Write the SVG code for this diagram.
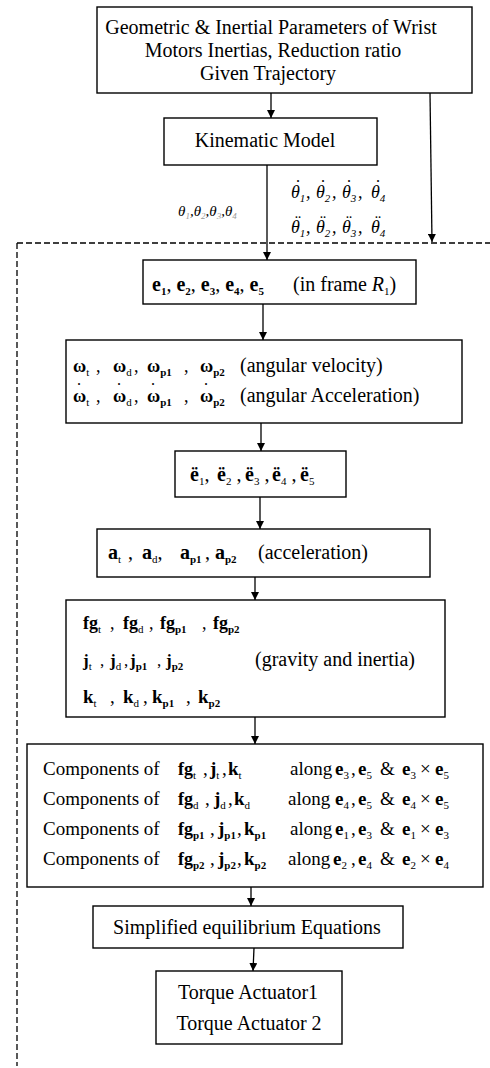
<svg xmlns="http://www.w3.org/2000/svg" width="490" height="1068" viewBox="0 0 490 1068">
<style>
text{font-family:"Liberation Serif","Times New Roman",serif;font-size:20px;fill:#000}
.c{text-anchor:middle}
.b{font-weight:bold}
.i{font-style:italic}
.sub{font-size:11px;baseline-shift:-4px}
.sm{font-size:18px}
.d{font-style:normal;font-weight:normal;font-size:18px}
.box{fill:#fff;stroke:#000;stroke-width:1.4}
.ln{stroke:#000;stroke-width:1.3;fill:none}
.dash{stroke:#000;stroke-width:1.3;fill:none;stroke-dasharray:6 3}
</style>
<defs>
<marker id="ah" viewBox="0 0 10 10" refX="10" refY="5" markerWidth="8" markerHeight="8" markerUnits="userSpaceOnUse" orient="auto">
<path d="M0,0 L10,5 L0,10 Z" fill="#000"/>
</marker>
</defs>
<rect width="490" height="1068" fill="#fff"/>

<g id="frame">
<path class="dash" d="M17,243 H490 M17,243 V1066"/>
</g>

<g id="n-params">
<rect class="box" x="97" y="7" width="375" height="86"/>
<text class="c" x="271" y="34">Geometric &amp; Inertial Parameters of Wrist</text>
<text class="c" x="273" y="57">Motors Inertias, Reduction ratio</text>
<text class="c" x="268" y="80">Given Trajectory</text>
</g>

<g id="n-kinematic">
<rect class="box" x="164" y="118" width="213" height="47"/>
<text class="c" x="265" y="147">Kinematic Model</text>
</g>

<g id="labels">
<text class="i" x="178" y="216" style="font-size:15px">θ<tspan fill="#999" style="font-size:9px;baseline-shift:-3px">1</tspan>,θ<tspan fill="#999" style="font-size:9px;baseline-shift:-3px">2</tspan>,θ<tspan fill="#999" style="font-size:9px;baseline-shift:-3px">3</tspan>,θ<tspan fill="#999" style="font-size:9px;baseline-shift:-3px">4</tspan></text>
<text class="i sm" y="198"><tspan x="291">θ</tspan><tspan class="sub">1</tspan><tspan x="306">,</tspan><tspan x="316">θ</tspan><tspan class="sub">2</tspan><tspan x="332">,</tspan><tspan x="342">θ</tspan><tspan class="sub">3</tspan><tspan x="358">,</tspan><tspan x="371">θ</tspan><tspan class="sub">4</tspan><tspan class="d" x="295" y="193">˙</tspan><tspan class="d" x="320">˙</tspan><tspan class="d" x="346">˙</tspan><tspan class="d" x="375">˙</tspan></text>
<text class="i sm" y="233"><tspan x="291">θ</tspan><tspan class="sub">1</tspan><tspan x="306">,</tspan><tspan x="316">θ</tspan><tspan class="sub">2</tspan><tspan x="332">,</tspan><tspan x="342">θ</tspan><tspan class="sub">3</tspan><tspan x="358">,</tspan><tspan x="371">θ</tspan><tspan class="sub">4</tspan><tspan class="d" x="295" y="228">¨</tspan><tspan class="d" x="320">¨</tspan><tspan class="d" x="346">¨</tspan><tspan class="d" x="375">¨</tspan></text>
</g>

<g id="n-e">
<rect class="box" x="143" y="260" width="273" height="44"/>
<text y="291"><tspan x="152" class="b">e</tspan><tspan class="sub b">1</tspan><tspan>, </tspan><tspan class="b">e</tspan><tspan class="sub b">2</tspan><tspan>, </tspan><tspan class="b">e</tspan><tspan class="sub b">3</tspan><tspan>, </tspan><tspan class="b">e</tspan><tspan class="sub b">4</tspan><tspan>, </tspan><tspan class="b">e</tspan><tspan class="sub b">5</tspan><tspan x="293">(in frame </tspan><tspan class="i">R</tspan><tspan class="sub">1</tspan><tspan>)</tspan></text>
</g>

<g id="n-omega">
<rect class="box" x="66" y="340" width="396" height="83"/>
<text y="372" class="sm"><tspan x="73" class="b">ω</tspan><tspan class="sub">t</tspan><tspan x="96">,</tspan><tspan x="113" class="b">ω</tspan><tspan class="sub">d</tspan><tspan x="134">,</tspan><tspan x="147" class="b">ω</tspan><tspan class="sub b">p1</tspan><tspan x="184">,</tspan><tspan x="200" class="b">ω</tspan><tspan class="sub b">p2</tspan><tspan x="240" style="font-size:20px">(angular velocity)</tspan></text>
<text y="402" class="sm"><tspan x="73" class="b">ω</tspan><tspan class="sub">t</tspan><tspan x="96">,</tspan><tspan x="113" class="b">ω</tspan><tspan class="sub">d</tspan><tspan x="134">,</tspan><tspan x="147" class="b">ω</tspan><tspan class="sub b">p1</tspan><tspan x="184">,</tspan><tspan x="200" class="b">ω</tspan><tspan class="sub b">p2</tspan><tspan x="240" style="font-size:20px">(angular Acceleration)</tspan><tspan class="d" x="76" y="396">˙</tspan><tspan class="d" x="116">˙</tspan><tspan class="d" x="150">˙</tspan><tspan class="d" x="203">˙</tspan></text>
</g>

<g id="n-eddot">
<rect class="box" x="175" y="451" width="171" height="46"/>
<text y="481"><tspan x="190" class="b">ë</tspan><tspan class="sub">1</tspan><tspan>,</tspan><tspan x="217" class="b">ë</tspan><tspan class="sub">2</tspan><tspan> ,</tspan><tspan x="245" class="b">ë</tspan><tspan class="sub">3</tspan><tspan> ,</tspan><tspan x="272" class="b">ë</tspan><tspan class="sub">4</tspan><tspan> ,</tspan><tspan x="300" class="b">ë</tspan><tspan class="sub">5</tspan></text>
</g>

<g id="n-acc">
<rect class="box" x="97" y="529" width="333" height="48"/>
<text y="559"><tspan x="108" class="b">a</tspan><tspan class="sub">t</tspan><tspan x="128">,</tspan><tspan x="142" class="b">a</tspan><tspan class="sub">d</tspan><tspan>,</tspan><tspan x="180" class="b">a</tspan><tspan class="sub b">p1</tspan><tspan x="205">,</tspan><tspan x="215" class="b">a</tspan><tspan class="sub b">p2</tspan><tspan x="258">(acceleration)</tspan></text>
</g>

<g id="n-forces">
<rect class="box" x="66" y="600" width="379" height="117"/>
<text y="629" style="font-size:18px"><tspan x="83" class="b">fg</tspan><tspan class="sub">t</tspan><tspan x="110">,</tspan><tspan x="123" class="b">fg</tspan><tspan class="sub">d</tspan><tspan x="149">,</tspan><tspan x="160" class="b">fg</tspan><tspan class="sub b">p1</tspan><tspan x="202">,</tspan><tspan x="213" class="b">fg</tspan><tspan class="sub b">p2</tspan></text>
<text y="666" style="font-size:17px"><tspan x="83" class="b">j</tspan><tspan class="sub">t</tspan><tspan x="100">,</tspan><tspan x="110" class="b">j</tspan><tspan class="sub">d</tspan><tspan x="124">,</tspan><tspan x="130" class="b">j</tspan><tspan class="sub b">p1</tspan><tspan x="157">,</tspan><tspan x="166" class="b">j</tspan><tspan class="sub b">p2</tspan><tspan x="255" style="font-size:20px">(gravity and inertia)</tspan></text>
<text y="703" style="font-size:19px"><tspan x="83" class="b">k</tspan><tspan class="sub">t</tspan><tspan x="110">,</tspan><tspan x="123" class="b">k</tspan><tspan class="sub">d</tspan><tspan x="143">,</tspan><tspan x="152" class="b">k</tspan><tspan class="sub b">p1</tspan><tspan x="186">,</tspan><tspan x="198" class="b">k</tspan><tspan class="sub b">p2</tspan></text>
</g>

<g id="n-components">
<rect class="box" x="27" y="744" width="456" height="143"/>
<text y="775" style="font-size:19px"><tspan x="43">Components of</tspan><tspan x="178" class="b" style="font-size:18px">fg</tspan><tspan class="sub">t</tspan><tspan x="203">,</tspan><tspan x="210" class="b">j</tspan><tspan class="sub">t</tspan><tspan x="222">,</tspan><tspan x="228" class="b">k</tspan><tspan class="sub">t</tspan><tspan x="290">along</tspan><tspan x="335" class="b">e</tspan><tspan class="sub">3</tspan><tspan x="351">,</tspan><tspan x="358" class="b">e</tspan><tspan class="sub">5</tspan><tspan x="380">&amp;</tspan><tspan x="402" class="b">e</tspan><tspan class="sub">3</tspan><tspan x="420">×</tspan><tspan x="435" class="b">e</tspan><tspan class="sub">5</tspan></text>
<text y="805" style="font-size:19px"><tspan x="43">Components of</tspan><tspan x="178" class="b" style="font-size:18px">fg</tspan><tspan class="sub">d</tspan><tspan x="205">,</tspan><tspan x="214" class="b">j</tspan><tspan class="sub">d</tspan><tspan x="228">,</tspan><tspan x="234" class="b">k</tspan><tspan class="sub">d</tspan><tspan x="288">along</tspan><tspan x="335" class="b">e</tspan><tspan class="sub">4</tspan><tspan x="351">,</tspan><tspan x="358" class="b">e</tspan><tspan class="sub">5</tspan><tspan x="380">&amp;</tspan><tspan x="402" class="b">e</tspan><tspan class="sub">4</tspan><tspan x="420">×</tspan><tspan x="435" class="b">e</tspan><tspan class="sub">5</tspan></text>
<text y="835" style="font-size:19px"><tspan x="43">Components of</tspan><tspan x="178" class="b" style="font-size:18px">fg</tspan><tspan class="sub b">p1</tspan><tspan x="210">,</tspan><tspan x="218" class="b">j</tspan><tspan class="sub b">p1</tspan><tspan x="237">,</tspan><tspan x="244" class="b">k</tspan><tspan class="sub b">p1</tspan><tspan x="290">along</tspan><tspan x="335" class="b">e</tspan><tspan class="sub">1</tspan><tspan x="351">,</tspan><tspan x="358" class="b">e</tspan><tspan class="sub">3</tspan><tspan x="380">&amp;</tspan><tspan x="402" class="b">e</tspan><tspan class="sub">1</tspan><tspan x="420">×</tspan><tspan x="435" class="b">e</tspan><tspan class="sub">3</tspan></text>
<text y="865" style="font-size:19px"><tspan x="43">Components of</tspan><tspan x="178" class="b" style="font-size:18px">fg</tspan><tspan class="sub b">p2</tspan><tspan x="210">,</tspan><tspan x="218" class="b">j</tspan><tspan class="sub b">p2</tspan><tspan x="237">,</tspan><tspan x="244" class="b">k</tspan><tspan class="sub b">p2</tspan><tspan x="288">along</tspan><tspan x="333" class="b">e</tspan><tspan class="sub">2</tspan><tspan x="351">,</tspan><tspan x="358" class="b">e</tspan><tspan class="sub">4</tspan><tspan x="380">&amp;</tspan><tspan x="402" class="b">e</tspan><tspan class="sub">2</tspan><tspan x="420">×</tspan><tspan x="435" class="b">e</tspan><tspan class="sub">4</tspan></text>
</g>

<g id="n-simplified">
<rect class="box" x="93" y="906" width="310" height="42"/>
<text class="c" x="247" y="934">Simplified equilibrium Equations</text>
</g>

<g id="n-torque">
<rect class="box" x="156" y="971" width="186" height="73"/>
<text class="c" x="248" y="999">Torque Actuator1</text>
<text class="c" x="249" y="1030">Torque Actuator 2</text>
</g>

<g id="connectors">
<line class="ln" x1="271" y1="93" x2="271" y2="118" marker-end="url(#ah)"/>
<line class="ln" x1="430" y1="93" x2="432" y2="242" marker-end="url(#ah)"/>
<line class="ln" x1="267" y1="165" x2="267" y2="260" marker-end="url(#ah)"/>
<line class="ln" x1="263" y1="304" x2="263" y2="340" marker-end="url(#ah)"/>
<line class="ln" x1="261" y1="423" x2="261" y2="451" marker-end="url(#ah)"/>
<line class="ln" x1="260" y1="497" x2="260" y2="529" marker-end="url(#ah)"/>
<line class="ln" x1="255" y1="577" x2="255" y2="600" marker-end="url(#ah)"/>
<line class="ln" x1="255" y1="717" x2="255" y2="744" marker-end="url(#ah)"/>
<line class="ln" x1="251" y1="887" x2="251" y2="906" marker-end="url(#ah)"/>
<line class="ln" x1="254" y1="948" x2="253" y2="971" marker-end="url(#ah)"/>
</g>
</svg>
